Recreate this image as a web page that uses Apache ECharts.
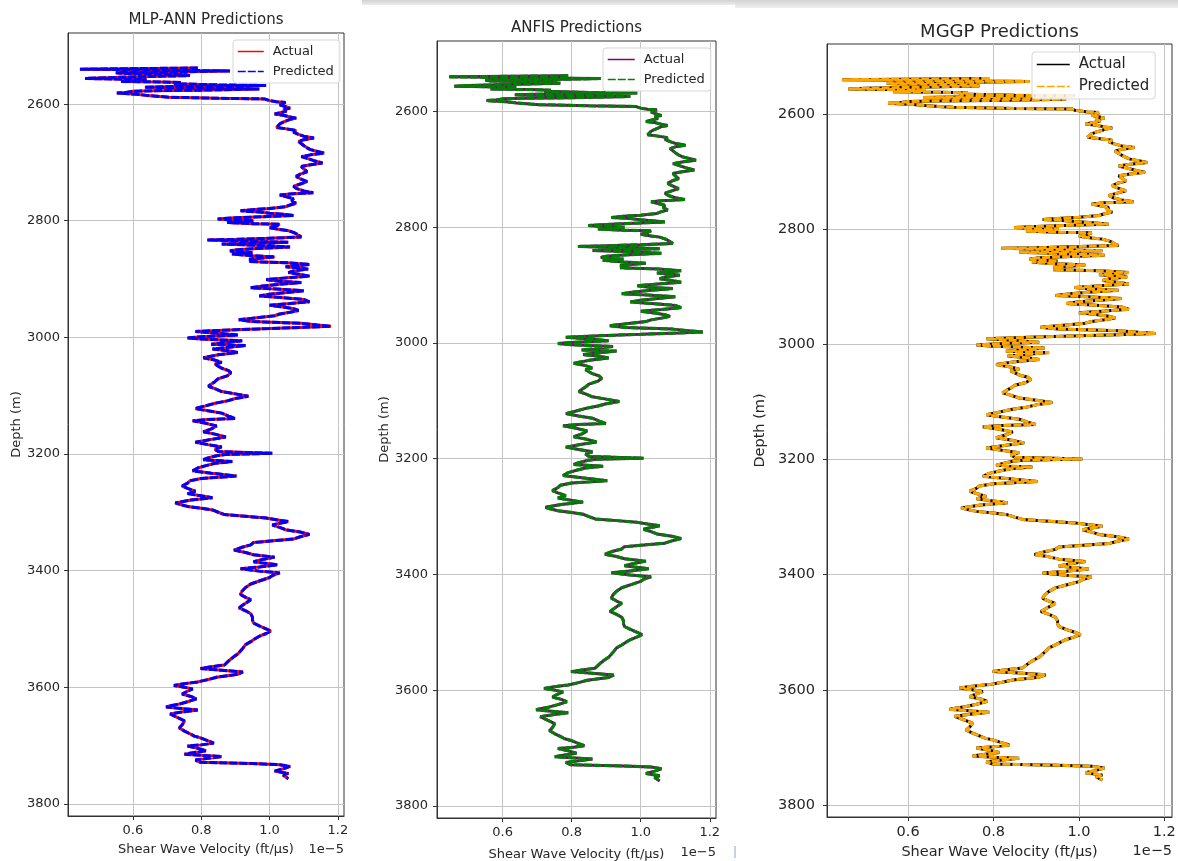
<!DOCTYPE html>
<html>
<head>
<meta charset="utf-8">
<title>Shear wave velocity predictions</title>
<script src="https://cdn.jsdelivr.net/npm/echarts@6/dist/echarts.min.js"></script>
<style>
  html, body { margin: 0; padding: 0; background: #fff; }
  #chart { width: 1178px; height: 861px; }
</style>
</head>
<body>
<div id="chart"></div>
<script>
  const depthM = [
    2538, 2540, 2541, 2542, 2543, 2545, 2546, 2547, 2549, 2551, 2553, 2555, 2556, 2557, 2558, 2560,
    2561, 2562, 2563, 2565, 2567, 2568, 2569, 2570, 2571, 2572, 2574, 2576, 2577, 2578, 2580, 2581,
    2583, 2585, 2587, 2588, 2590, 2591, 2593, 2594, 2596, 2597, 2599, 2601, 2603, 2605, 2607, 2609,
    2612, 2614, 2617, 2619, 2622, 2624, 2626, 2628, 2631, 2634, 2637, 2640, 2642, 2645, 2648, 2652,
    2655, 2658, 2661, 2664, 2667, 2671, 2675, 2678, 2681, 2684, 2687, 2690, 2693, 2697, 2701, 2704,
    2707, 2711, 2716, 2720, 2724, 2728, 2733, 2737, 2741, 2745, 2749, 2752, 2754, 2756, 2759, 2762,
    2766, 2770, 2773, 2776, 2779, 2781, 2783, 2785, 2787, 2789, 2791, 2793, 2795, 2797, 2799, 2800,
    2802, 2803, 2805, 2806, 2809, 2812, 2815, 2817, 2820, 2823, 2826, 2828, 2830, 2832, 2833, 2835,
    2837, 2839, 2840, 2842, 2845, 2848, 2850, 2852, 2855, 2857, 2860, 2862, 2864, 2866, 2868, 2870,
    2872, 2875, 2877, 2879, 2881, 2883, 2886, 2889, 2892, 2895, 2898, 2901, 2904, 2906, 2909, 2912,
    2915, 2917, 2920, 2923, 2926, 2929, 2932, 2935, 2939, 2942, 2945, 2948, 2951, 2954, 2957, 2960,
    2963, 2966, 2970, 2973, 2976, 2979, 2981, 2983, 2985, 2987, 2990, 2993, 2996, 2999, 3001, 3003,
    3006, 3009, 3012, 3014, 3017, 3020, 3023, 3026, 3030, 3035, 3039, 3043, 3046, 3049, 3053, 3057,
    3061, 3066, 3071, 3076, 3080, 3084, 3088, 3093, 3097, 3101, 3105, 3109, 3113, 3118, 3122, 3126,
    3130, 3135, 3139, 3141, 3143, 3147, 3152, 3157, 3162, 3166, 3171, 3175, 3180, 3184, 3188, 3192,
    3196, 3199, 3201, 3203, 3207, 3210, 3213, 3216, 3220, 3224, 3229, 3233, 3238, 3242, 3246, 3250,
    3255, 3259, 3264, 3268, 3271, 3275, 3279, 3284, 3287, 3290, 3293, 3296, 3300, 3304, 3307, 3310,
    3313, 3316, 3319, 3322, 3326, 3330, 3334, 3338, 3342, 3346, 3349, 3352, 3356, 3360, 3365, 3369,
    3373, 3377, 3381, 3385, 3390, 3394, 3397, 3401, 3404, 3408, 3412, 3418, 3423, 3429, 3435, 3441,
    3446, 3450, 3456, 3460, 3464, 3469, 3474, 3480, 3485, 3490, 3495, 3500, 3504, 3508, 3513, 3518,
    3522, 3527, 3533, 3538, 3543, 3548, 3553, 3558, 3562, 3565, 3568, 3571, 3574, 3578, 3583, 3587,
    3591, 3594, 3597, 3600, 3603, 3607, 3612, 3616, 3620, 3625, 3629, 3632, 3634, 3637, 3639, 3642,
    3646, 3652, 3658, 3664, 3670, 3675, 3680, 3684, 3687, 3691, 3696, 3699, 3701, 3705, 3709, 3712,
    3715, 3717, 3719, 3722, 3725, 3729, 3731, 3733, 3736, 3740, 3744, 3748, 3751, 3754, 3757
  ]
  const vsActual = [
    0.79, 0.445, 0.62, 0.705, 0.884, 0.70, 0.55, 0.565, 0.74, 0.767, 0.62, 0.50, 0.46, 0.55, 0.64, 0.60,
    0.565, 0.68, 0.74, 0.72, 0.85, 0.99, 0.80, 0.70, 0.635, 0.75, 0.97, 0.80, 0.66, 0.60, 0.58, 0.553,
    0.61, 0.64, 0.68, 0.705, 0.85, 0.985, 0.99, 1.0, 1.02, 1.047, 1.05, 1.03, 1.035, 1.05, 1.06, 1.04,
    1.05, 1.047, 1.015, 1.04, 1.06, 1.078, 1.06, 1.055, 1.04, 1.03, 1.025, 1.02, 1.045, 1.078, 1.07, 1.085,
    1.10, 1.13, 1.10, 1.085, 1.09, 1.10, 1.11, 1.12, 1.14, 1.16, 1.12, 1.093, 1.11, 1.13, 1.155, 1.12,
    1.093, 1.10, 1.11, 1.09, 1.078, 1.09, 1.11, 1.09, 1.07, 1.08, 1.10, 1.128, 1.06, 1.03, 1.05, 1.07,
    1.065, 1.078, 1.06, 1.047, 1.00, 0.95, 0.915, 0.97, 1.0, 1.04, 1.07, 0.98, 0.90, 0.848, 0.90, 0.953,
    0.92, 0.876, 0.95, 1.03, 1.02, 1.0, 1.03, 1.055, 1.07, 1.08, 1.085, 1.093, 1.00, 0.90, 0.818, 0.95,
    1.055, 0.95, 0.86, 0.96, 1.06, 0.95, 0.90, 0.884, 0.95, 0.89, 0.95, 1.015, 0.98, 0.94, 0.96, 0.94,
    1.05, 1.117, 1.08, 1.047, 1.09, 1.113, 1.07, 1.055, 1.09, 1.117, 1.05, 0.99, 1.03, 1.093, 1.03, 0.98,
    0.945, 1.02, 1.10, 1.05, 1.00, 0.97, 1.04, 1.10, 1.117, 1.06, 1.0, 1.04, 1.07, 1.085, 1.06, 1.03,
    1.015, 0.97, 0.91, 0.95, 1.093, 1.14, 1.18, 1.09, 1.0, 0.90, 0.783, 0.85, 0.907, 0.80, 0.76, 0.80,
    0.92, 0.87, 0.829, 0.93, 0.88, 0.833, 0.88, 0.907, 0.85, 0.806, 0.84, 0.86, 0.84, 0.837, 0.86, 0.88,
    0.887, 0.876, 0.85, 0.84, 0.83, 0.821, 0.84, 0.86, 0.90, 0.938, 0.90, 0.876, 0.841, 0.81, 0.783, 0.82,
    0.86, 0.88, 0.899, 0.82, 0.775, 0.81, 0.845, 0.83, 0.806, 0.84, 0.872, 0.83, 0.783, 0.82, 0.86, 0.84,
    0.85, 1.008, 0.87, 0.845, 0.82, 0.806, 0.891, 0.84, 0.814, 0.79, 0.775, 0.83, 0.903, 0.80, 0.767, 0.76,
    0.744, 0.76, 0.783, 0.76, 0.79, 0.833, 0.77, 0.724, 0.74, 0.76, 0.80, 0.833, 0.85, 0.868, 0.93, 0.99,
    1.02, 1.055, 1.03, 1.008, 1.03, 1.047, 1.09, 1.117, 1.09, 1.07, 1.01, 0.953, 0.945, 0.92, 0.896, 0.93,
    0.953, 1.015, 0.98, 0.953, 1.023, 0.97, 0.915, 0.97, 1.03, 1.01, 1.0, 0.97, 0.945, 0.93, 0.92, 0.915,
    0.93, 0.945, 0.93, 0.92, 0.911, 0.93, 0.945, 0.95, 0.95, 0.953, 0.97, 0.99, 1.004, 0.99, 0.969, 0.955,
    0.945, 0.93, 0.922, 0.915, 0.907, 0.895, 0.884, 0.875, 0.868, 0.83, 0.798, 0.86, 0.922, 0.907, 0.845, 0.82,
    0.79, 0.75, 0.72, 0.75, 0.775, 0.76, 0.744, 0.77, 0.786, 0.76, 0.736, 0.71, 0.697, 0.75, 0.79, 0.75,
    0.709, 0.73, 0.751, 0.745, 0.736, 0.75, 0.767, 0.78, 0.798, 0.815, 0.837, 0.80, 0.76, 0.79, 0.814, 0.78,
    0.751, 0.80, 0.86, 0.82, 0.783, 0.798, 0.95, 1.03, 1.06, 1.04, 1.015, 1.055, 1.04, 1.04, 1.055
  ]
  // the three models track the measured log so closely that they can't be told apart at this scale
  const vsMlpAnn = vsActual
  const vsAnfis = vsActual
  const vsMggp = vsActual

  const modelNames = ['MLP-ANN', 'ANFIS', 'MGGP']
  const predictions = [vsMlpAnn, vsAnfis, vsMggp]
  const xTicks = [0.6, 0.8, 1.0, 1.2]
  const yTicks = [2600, 2800, 3000, 3200, 3400, 3600, 3800]

  const panels = [
    { grid: { left: 68, top: 33, width: 276, height: 783 }, colors: ['#ff0000', '#0000ff'],
      titleSize: 15, titleY: 20, font: 13, xMargin: 8, yMargin: 8, xNameGap: 27, yNameGap: 43,
      offsetY: 850, legend: { left: 233, top: 40 }, legendFont: 13, legendLine: 26 },
    { grid: { left: 437, top: 41, width: 279, height: 777 }, colors: ['#800080', '#008000'],
      titleSize: 15, titleY: 28, font: 13, xMargin: 8, yMargin: 9, xNameGap: 30, yNameGap: 45,
      offsetY: 853, legend: { left: 603, top: 48 }, legendFont: 13, legendLine: 27 },
    { grid: { left: 827, top: 44, width: 345, height: 773 }, colors: ['#000000', '#ffa500'],
      titleSize: 18, titleY: 32, font: 14.5, xMargin: 8, yMargin: 12, xNameGap: 26, yNameGap: 59,
      offsetY: 851, legend: { left: 1032, top: 52 }, legendFont: 15, legendLine: 33 }
  ]

  const FONT = 'DejaVu Sans, sans-serif'
  const TEXT = '#262626'

  function pairs(vs) {
    return depthM.map((d, i) => [vs[i], d])
  }

  function buildOption() {
    let grid = [], xAxis = [], yAxis = [], series = [], title = [], legend = [], graphic = []

    panels.forEach((p, i) => {
      let model = modelNames[i]
      let actualName = 'Actual|' + model
      let predName = 'Predicted|' + model
      let cx = p.grid.left + p.grid.width / 2

      grid.push(Object.assign({
        show: true, borderColor: '#333', borderWidth: 1, backgroundColor: '#fff',
        containLabel: false, outerBoundsMode: 'none'
      }, p.grid))

      title.push({
        text: model + ' Predictions',
        left: cx,
        top: p.titleY,
        padding: 0,
        textAlign: 'center',
        textVerticalAlign: 'middle',
        textStyle: { fontFamily: FONT, fontSize: p.titleSize, fontWeight: 'normal', color: TEXT }
      })

      xAxis.push({
        gridIndex: i,
        type: 'value',
        min: 0.41,
        max: 1.218,
        name: 'Shear Wave Velocity (ft/μs)',
        nameLocation: 'middle',
        nameGap: p.xNameGap,
        nameTextStyle: { fontFamily: FONT, fontSize: p.font, color: TEXT },
        axisLine: { show: true, onZero: false, lineStyle: { color: '#333', width: 1 } },
        axisTick: { show: true, length: 4, customValues: xTicks, lineStyle: { color: '#333' } },
        axisLabel: {
          customValues: xTicks, margin: p.xMargin, fontFamily: FONT, fontSize: p.font, color: TEXT,
          formatter: v => v.toFixed(1)
        },
        splitLine: { show: true, lineStyle: { color: '#c4c4c4', width: 1 } }
      })

      yAxis.push({
        gridIndex: i,
        type: 'value',
        inverse: true,
        min: 2478,
        max: 3821,
        name: 'Depth (m)',
        nameLocation: 'middle',
        nameGap: p.yNameGap,
        nameTextStyle: { fontFamily: FONT, fontSize: p.font, color: TEXT },
        axisLine: { show: true, onZero: false, lineStyle: { color: '#333', width: 1 } },
        axisTick: { show: true, length: 4, customValues: yTicks, lineStyle: { color: '#333' } },
        axisLabel: {
          customValues: yTicks, margin: p.yMargin, fontFamily: FONT, fontSize: p.font, color: TEXT,
          formatter: v => String(v)
        },
        splitLine: { show: true, lineStyle: { color: '#c4c4c4', width: 1 } }
      })

      series.push({
        name: actualName,
        type: 'line',
        xAxisIndex: i,
        yAxisIndex: i,
        symbol: 'none',
        color: p.colors[0],
        lineStyle: { color: p.colors[0], width: 3 },
        z: 2,
        data: pairs(vsActual)
      })
      series.push({
        name: predName,
        type: 'line',
        xAxisIndex: i,
        yAxisIndex: i,
        symbol: 'none',
        color: p.colors[1],
        lineStyle: { color: p.colors[1], width: 3, type: [8, 2] },
        z: 3,
        data: pairs(predictions[i])
      })

      legend.push({
        left: p.legend.left,
        top: p.legend.top,
        orient: 'vertical',
        data: [actualName, predName],
        selectedMode: false,
        itemWidth: p.legendLine,
        itemHeight: 12,
        itemGap: 7,
        padding: [5, 6, 5, 4],
        backgroundColor: 'rgba(255,255,255,0.85)',
        borderColor: '#d6d6d6',
        borderWidth: 1,
        borderRadius: 3,
        itemStyle: { opacity: 0 },
        lineStyle: { width: 1.5, type: 'inherit' },
        formatter: name => name.split('|')[0],
        textStyle: { fontFamily: FONT, fontSize: p.legendFont, color: TEXT, padding: [0, 0, 0, 4] }
      })

      // matplotlib offset text for the x axis
      graphic.push({
        type: 'text',
        x: p.grid.left + p.grid.width,
        y: p.offsetY,
        style: {
          text: '1e\u22125', fontFamily: FONT, fontSize: p.font, fill: TEXT,
          textAlign: 'right', textVerticalAlign: 'middle'
        }
      })
    })

    // grey strip and mark left by the screenshot
    graphic.push({
      type: 'rect', left: 362, top: 0, shape: { width: 373, height: 5 },
      style: { fill: new echarts.graphic.LinearGradient(0, 0, 0, 1, [{ offset: 0, color: '#d2d2d2' }, { offset: 1, color: '#ececec' }]) },
      silent: true
    })
    graphic.push({
      type: 'rect', left: 735, top: 0, shape: { width: 443, height: 8 },
      style: { fill: new echarts.graphic.LinearGradient(0, 0, 0, 1, [{ offset: 0, color: '#d2d2d2' }, { offset: 1, color: '#f0f0f0' }]) },
      silent: true
    })
    graphic.push({
      type: 'rect', left: 734, top: 846, shape: { width: 2, height: 12 },
      style: { fill: '#c9cfe4' },
      silent: true
    })

    return {
      backgroundColor: '#ffffff',
      animation: false,
      title,
      legend,
      grid,
      xAxis,
      yAxis,
      series,
      graphic
    }
  }

  let el = document.getElementById('chart')
  let myChart = echarts.init(el, null, { renderer: 'canvas' })
  myChart.setOption(buildOption())
  window.addEventListener('resize', () => myChart && myChart.resize())
</script>
</body>
</html>
